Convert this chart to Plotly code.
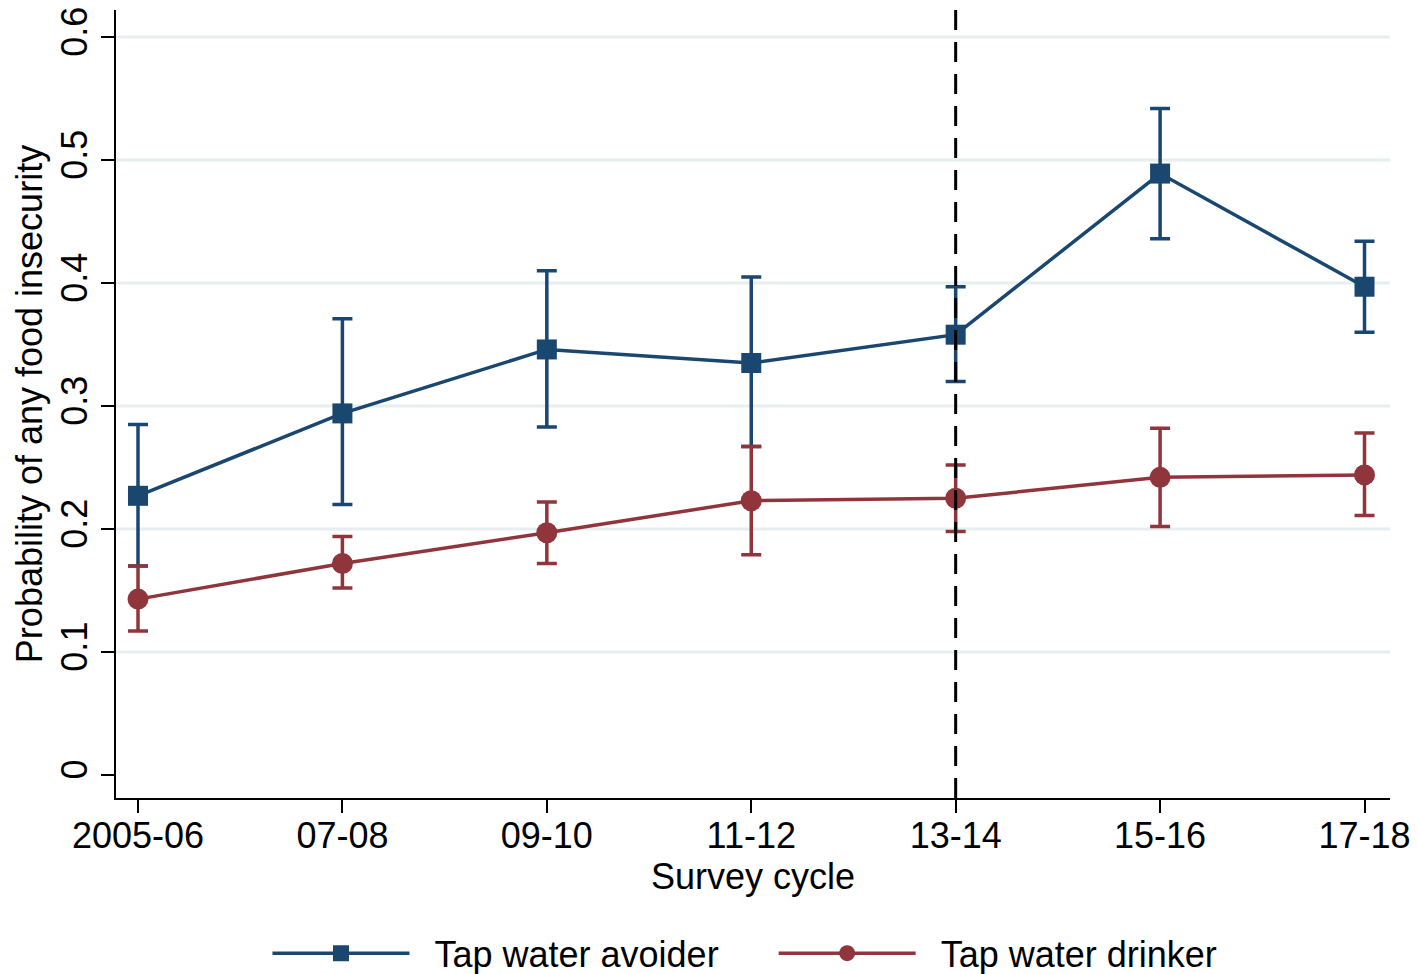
import plotly.graph_objects as go

cycles = ["2005-06", "07-08", "09-10", "11-12", "13-14", "15-16", "17-18"]

avoider_mean = [0.227, 0.294, 0.346, 0.335, 0.358, 0.489, 0.397]
avoider_upper = [0.285, 0.371, 0.410, 0.405, 0.397, 0.542, 0.434]
avoider_lower = [0.170, 0.220, 0.283, 0.267, 0.320, 0.436, 0.360]

drinker_mean = [0.143, 0.172, 0.197, 0.223, 0.225, 0.242, 0.244]
drinker_upper = [0.170, 0.194, 0.222, 0.267, 0.252, 0.282, 0.278]
drinker_lower = [0.117, 0.152, 0.172, 0.179, 0.198, 0.202, 0.211]

y_ticks = [0, 0.1, 0.2, 0.3, 0.4, 0.5, 0.6]
y_tick_text = ["0", "0.1", "0.2", "0.3", "0.4", "0.5", "0.6"]
policy_cycle = "13-14"

NAVY = "#1a476f"
MAROON = "#90353b"
GRID = "#e6eef0"
FONT = "Liberation Sans, Arial, Helvetica, sans-serif"
NB = "\u00a0"

x_idx = list(range(len(cycles)))

fig = go.Figure()

fig.add_trace(go.Scatter(
    x=x_idx, y=avoider_mean, name=NB * 2 + "Tap water avoider" + NB * 5,
    mode="lines+markers",
    line=dict(color=NAVY, width=3.5),
    marker=dict(symbol="square", size=20, color=NAVY),
    error_y=dict(type="data", symmetric=False,
                 array=[u - m for u, m in zip(avoider_upper, avoider_mean)],
                 arrayminus=[m - l for m, l in zip(avoider_mean, avoider_lower)],
                 color=NAVY, thickness=3.5, width=10),
))
fig.add_trace(go.Scatter(
    x=x_idx, y=drinker_mean, name=NB * 2 + "Tap water drinker",
    mode="lines+markers",
    line=dict(color=MAROON, width=3.5),
    marker=dict(symbol="circle", size=21, color=MAROON),
    error_y=dict(type="data", symmetric=False,
                 array=[u - m for u, m in zip(drinker_upper, drinker_mean)],
                 arrayminus=[m - l for m, l in zip(drinker_mean, drinker_lower)],
                 color=MAROON, thickness=3.5, width=10),
))

# horizontal gridlines (none at zero)
for v in y_ticks[1:]:
    fig.add_shape(type="line", xref="paper", yref="y", x0=0, x1=1, y0=v, y1=v,
                  line=dict(color=GRID, width=3), layer="below")

# vertical dashed reference line
fig.add_shape(type="line", xref="x", yref="paper",
              x0=cycles.index(policy_cycle), x1=cycles.index(policy_cycle), y0=0, y1=1,
              line=dict(color="black", width=3, dash="20px,12px"))

fig.update_layout(
    width=1417, height=974,
    margin=dict(l=116, r=27, t=10, b=176, autoexpand=False),
    paper_bgcolor="white", plot_bgcolor="white",
    font=dict(family=FONT, size=36, color="black"),
    showlegend=True,
    legend=dict(orientation="h", x=0.4937, xanchor="center", y=-0.197, yanchor="middle",
                font=dict(size=36), itemwidth=137, tracegroupgap=0,
                bgcolor="rgba(0,0,0,0)"),
    xaxis=dict(
        tickmode="array", tickvals=x_idx, ticktext=cycles,
        range=[-0.1076, 6.1247], showgrid=False, zeroline=False,
        showline=True, linecolor="black", linewidth=2,
        ticks="outside", ticklen=13, tickwidth=2, tickcolor="black",
        tickfont=dict(size=36), ticklabelstandoff=-8, automargin=False,
        title=dict(text="Survey cycle", font=dict(size=36), standoff=4),
    ),
    yaxis=dict(
        tickmode="array", tickvals=y_ticks, ticktext=y_tick_text,
        range=[-0.0187, 0.622], showgrid=False, zeroline=False,
        showline=True, linecolor="black", linewidth=2,
        ticks="outside", ticklen=13, tickwidth=2, tickcolor="black",
        tickangle=-90, tickfont=dict(size=36), automargin=False,
        title=dict(text="Probability of any food insecurity", font=dict(size=36), standoff=0),
    ),
)

fig.write_html("out.html", config={"displayModeBar": False},
               post_script="document.body.style.margin='0px';document.body.style.overflow='hidden';")
